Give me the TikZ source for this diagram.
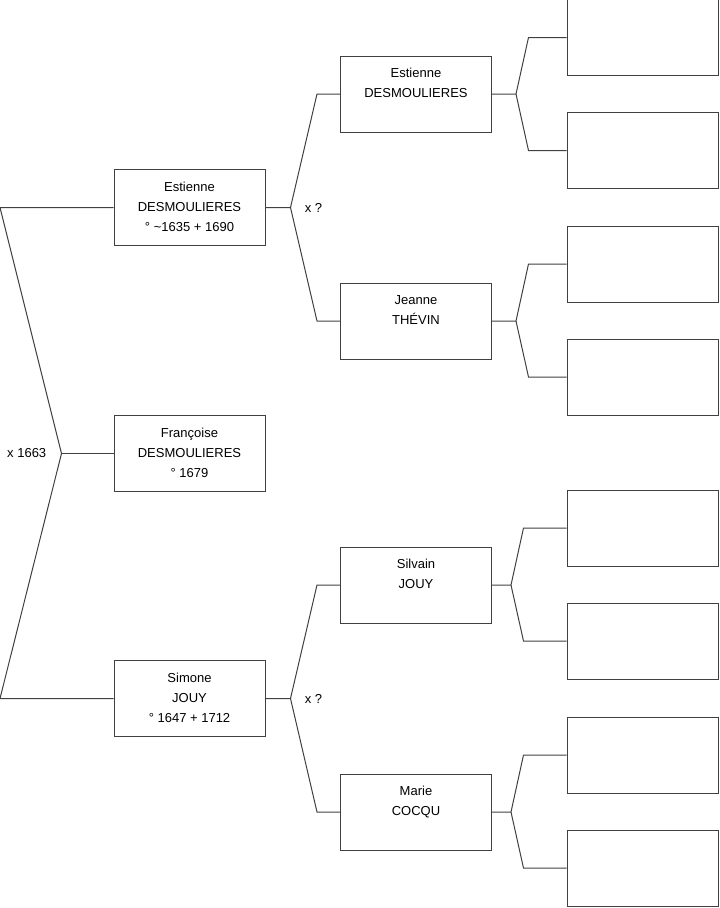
\documentclass[tikz,border=0pt]{standalone}
\usepackage{fontspec}
\setmainfont{Liberation Sans}
\usetikzlibrary{positioning, calc}

\tikzset{
  person/.style={draw=black!75, line width=0.75pt, minimum width=113.25pt, minimum height=57pt,
    inner sep=0pt, align=center, font=\fontsize{9.75}{15}\selectfont,
    execute at begin node={\rule{0pt}{13.5pt}}, execute at end node={\rule[-1.5pt]{0pt}{1.5pt}}},
  union/.style={font=\fontsize{9.75}{15}\selectfont, inner sep=0pt},
  link/.style={draw=black!75, line width=0.75pt},
}

\begin{document}
\begin{tikzpicture}[x=0.75pt, y=-0.75pt, node distance=85.125pt and 169.875pt, on grid]
  \useasboundingbox (0,0) rectangle (719,908);

  % child and parents
  \node[person] (p2) at (189.5,453.5) {Françoise\\DESMOULIERES\\° 1679};
  \node[person] (p1) [above=184.5pt of p2] {Estienne\\DESMOULIERES\\° \textasciitilde1635 + 1690};
  \node[person] (p3) [below=183.75pt of p2] {Simone\\JOUY\\° 1647 + 1712};

  % grandparents
  \node[person] (g1) [above right=of p1] {Estienne\\DESMOULIERES\\};
  \node[person] (g2) [below right=of p1] {Jeanne\\THÉVIN\\};
  \node[person] (g3) [above right=of p3] {Silvain\\JOUY\\};
  \node[person] (g4) [below right=of p3] {Marie\\COCQU\\};

  % great-grandparents (empty)
  \node[person] (e1) [above right=42.375pt and 169.875pt of g1] {};
  \node[person] (e2) [below right=42.375pt and 169.875pt of g1] {};
  \node[person] (e3) [above right=42.75pt and 169.875pt of g2] {};
  \node[person] (e4) [below right=42pt and 169.875pt of g2] {};
  \node[person] (e5) [above right=42.75pt and 169.875pt of g3] {};
  \node[person] (e6) [below right=42pt and 169.875pt of g3] {};
  \node[person] (e7) [above right=42.75pt and 169.875pt of g4] {};
  \node[person] (e8) [below right=42pt and 169.875pt of g4] {};

  % links to the parents
  \coordinate (a2) at ($(p2.west)+(-52,0)$);
  \draw[link] (p1.west) -- (p1.west -| 0,0) -- (a2) -- (p3.west -| 0,0) -- (p3.west);
  \draw[link] (a2) -- (p2.west);
  \node[union, anchor=east] (m0) at ($(a2)+(-15,0)$) {x 1663};

  % links to the grandparents
  \draw[link] (p1.east) -- ++(25,0) coordinate (f1) -- ($(g1.west)+(-23,0)$) -- (g1.west);
  \draw[link] (f1) -- ($(g2.west)+(-23,0)$) -- (g2.west);
  \node[union, anchor=west] (m1) at ($(f1)+(14,0)$) {x ?};
  \draw[link] (p3.east) -- ++(25,0) coordinate (f2) -- ($(g3.west)+(-23,0)$) -- (g3.west);
  \draw[link] (f2) -- ($(g4.west)+(-23,0)$) -- (g4.west);
  \node[union, anchor=west] (m2) at ($(f2)+(14,0)$) {x ?};

  % links to the great-grandparents
  \draw[link] (g1.east) -- ++(24,0) coordinate (h1) -- ($(e1.west)+(-38,0)$) -- (e1.west);
  \draw[link] (h1) -- ($(e2.west)+(-38,0)$) -- (e2.west);
  \draw[link] (g2.east) -- ++(24,0) coordinate (h2) -- ($(e3.west)+(-38,0)$) -- (e3.west);
  \draw[link] (h2) -- ($(e4.west)+(-38,0)$) -- (e4.west);
  \draw[link] (g3.east) -- ++(19,0) coordinate (h3) -- ($(e5.west)+(-43,0)$) -- (e5.west);
  \draw[link] (h3) -- ($(e6.west)+(-43,0)$) -- (e6.west);
  \draw[link] (g4.east) -- ++(19,0) coordinate (h4) -- ($(e7.west)+(-43,0)$) -- (e7.west);
  \draw[link] (h4) -- ($(e8.west)+(-43,0)$) -- (e8.west);
\end{tikzpicture}
\end{document}
